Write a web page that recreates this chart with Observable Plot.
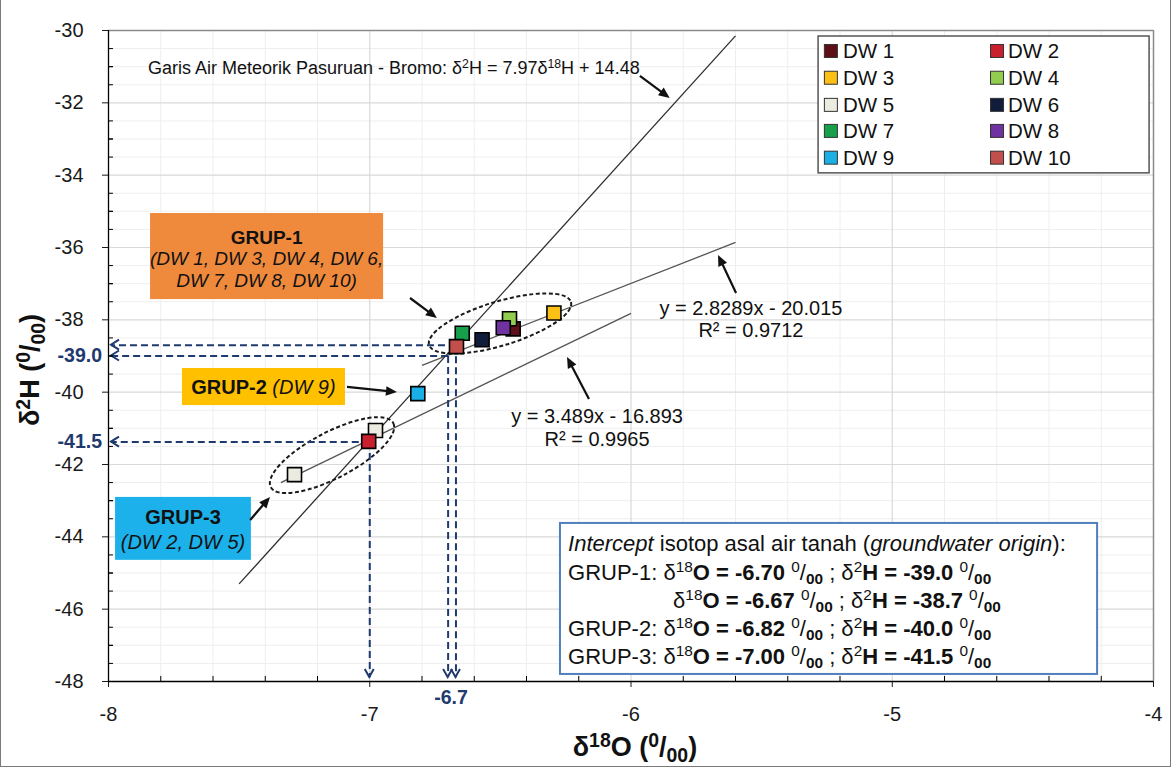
<!DOCTYPE html>
<html><head><meta charset="utf-8">
<script src="https://cdn.jsdelivr.net/npm/d3@7"></script>
<script src="https://cdn.jsdelivr.net/npm/@observablehq/plot@0.6"></script>
<style>
html,body{margin:0;padding:0;background:#fff;}
#chart{position:relative;width:1171px;height:769px;overflow:hidden;}
#chart svg{display:block;}
#border{position:absolute;left:0;top:0;width:1171px;height:767px;box-sizing:border-box;border:1.5px solid #7a7a7a;border-top:none;pointer-events:none;}
</style></head><body>
<div id="chart"><div id="border"></div></div>
<script>
// ---------------- data ----------------
const SITES = ["DW 1","DW 2","DW 3","DW 4","DW 5","DW 6","DW 7","DW 8","DW 9","DW 10"];
const SITE_COLORS = ["#5c0f16","#c8202c","#fbbf16","#92cd50","#ecebe0","#101c3a","#17a04c","#7032a0","#1ab0e6","#c24f4b"];

const SAMPLE_SITE = ["DW 1","DW 4","DW 8","DW 6","DW 7","DW 3","DW 5","DW 5","DW 2","DW 9","DW 10"];
const SAMPLE_O18  = [-6.451,-6.465,-6.489,-6.570,-6.646,-6.295,-7.288,-6.978,-7.004,-6.816,-6.668];
const SAMPLE_H2   = [-38.25,-37.97,-38.22,-38.55,-38.37,-37.81,-42.28,-41.06,-41.36,-40.04,-38.74];

// line segments as drawn: meteoric line, GRUP-1 trend, GRUP-3 trend
const LINE_NAMES = ["GMWL Pasuruan-Bromo","trend y = 2.8289x - 20.015","trend y = 3.489x - 16.893"];
const LINE_X1 = [-7.50,-6.80,-7.34];
const LINE_Y1 = [-45.30,-39.26,-42.50];
const LINE_X2 = [-5.60,-5.60,-6.00];
const LINE_Y2 = [-30.15,-35.86,-37.82];

// intercept guides (dashed arrows to the axes)
const GUIDE_O18 = [-6.67,-6.70,-7.00];
const GUIDE_H2  = [-38.70,-39.00,-41.38];

const X_TICKS = [-8,-7,-6,-5,-4];
const Y_TICKS = [-30,-32,-34,-36,-38,-40,-42,-44,-46,-48];

// text content
const MWL_TEXT = [["Garis Air Meteorik Pasuruan - Bromo: δ",""],["2","^"],["H = 7.97δ",""],["18","^"],["H + 14.48",""]];
const EQ1 = ["y = 2.8289x - 20.015","R² = 0.9712"];
const EQ2 = ["y = 3.489x - 16.893","R² = 0.9965"];
const INTERCEPT_LINES = [
  [["Intercept","i"],[" isotop asal air tanah (",""],["groundwater origin","i"],["):",""]],
  [["GRUP-1: δ",""],["18","^"],["O = -6.70 ","b"],["0","^"],["/",""],["00","_b"],[" ; δ",""],["2","^"],["H = -39.0 ","b"],["0","^"],["/",""],["00","_b"]],
  [["δ",""],["18","^"],["O = -6.67 ","b"],["0","^"],["/",""],["00","_b"],[" ; δ",""],["2","^"],["H = -38.7 ","b"],["0","^"],["/",""],["00","_b"]],
  [["GRUP-2: δ",""],["18","^"],["O = -6.82 ","b"],["0","^"],["/",""],["00","_b"],[" ; δ",""],["2","^"],["H = -40.0 ","b"],["0","^"],["/",""],["00","_b"]],
  [["GRUP-3: δ",""],["18","^"],["O = -7.00 ","b"],["0","^"],["/",""],["00","_b"],[" ; δ",""],["2","^"],["H = -41.5 ","b"],["0","^"],["/",""],["00","_b"]]
];

// ---------------- layout (annotation anchors in data units) ----------------
const FONT = "'Liberation Sans', Arial, Helvetica, sans-serif";
const NAVY = "#1f3a6e";
const BOX_X1 = [-7.839,-7.717,-7.973], BOX_X2 = [-6.947,-7.093,-7.453];
const BOX_Y1 = [-35.06,-39.345,-42.91], BOX_Y2 = [-37.44,-40.37,-44.65];
const BOX_FILL = ["#ef8a3d","#ffc000","#1cb1ea"];

const ELL_X1 = [-6.771,-7.377], ELL_Y1 = [-38.71,-42.64];
const ELL_X2 = [-6.228,-6.908], ELL_Y2 = [-37.52,-40.87];
const ELL_RY = [22,23];

const ARR_X1 = [-5.964,-5.596,-6.159,-6.844,-7.085,-7.456];
const ARR_Y1 = [-31.27,-37.27,-40.20,-37.41,-39.87,-43.55];
const ARR_X2 = [-5.850,-5.665,-6.243,-6.741,-6.894,-7.380];
const ARR_Y2 = [-31.88,-36.22,-39.04,-37.96,-40.01,-42.91];

const colorOf = s => SITE_COLORS[SITES.indexOf(s)];
const sampleIdx = d3.range(SAMPLE_SITE.length);
const lineIdx = d3.range(LINE_X1.length);
const guideIdx = d3.range(GUIDE_O18.length);
const boxIdx = d3.range(BOX_X1.length);

function getScales(args){ return args.find(a => a && typeof a.x === "function" && typeof a.y === "function"); }

function richText(g, x, y, segs, o = {}) {
  const size = o.size || 17;
  const t = g.append("text").attr("x", x).attr("y", y + 0.35*size)
    .attr("text-anchor", o.anchor || "start").attr("font-size", size)
    .attr("fill", o.fill || "#111").style("white-space","pre");
  if (o.rotate) t.attr("transform", `rotate(${o.rotate},${x},${y})`);
  if (o.weight) t.attr("font-weight", o.weight);
  const sc = o.scriptScale || 0.68;
  let shift = 0;
  for (const [txt, st] of segs) {
    const ts = t.append("tspan").text(txt);
    if (st.includes("b")) ts.attr("font-weight","bold");
    if (st.includes("i")) ts.attr("font-style","italic");
    let target = 0, fs = size;
    if (st.includes("^")) { target = -0.36*size; fs = size*sc; }
    if (st.includes("_")) { target = 0.22*size; fs = size*sc; }
    if (target !== shift) { ts.attr("dy", target - shift); shift = target; }
    ts.attr("font-size", fs);
  }
  return t;
}

function solidArrow(g, x1, y1, x2, y2, color) {
  const dx = x2-x1, dy = y2-y1, L = Math.hypot(dx,dy), ux = dx/L, uy = dy/L;
  const hl = 11, hw = 4.8, bx = x2-ux*hl, by = y2-uy*hl;
  g.append("line").attr("x1",x1).attr("y1",y1).attr("x2",bx+ux*2).attr("y2",by+uy*2)
    .attr("stroke",color).attr("stroke-width",2.2);
  g.append("path").attr("d",`M${x2},${y2}L${bx-uy*hw},${by+ux*hw}L${bx+uy*hw},${by-ux*hw}Z`).attr("fill",color);
}

const ellipseMark = (...args) => {
  const {x: X, y: Y} = getScales(args);
  const g = d3.create("svg:g");
  ELL_X1.forEach((_, i) => {
    const p1 = [X(ELL_X1[i]), Y(ELL_Y1[i])], p2 = [X(ELL_X2[i]), Y(ELL_Y2[i])];
    const cx = (p1[0]+p2[0])/2, cy = (p1[1]+p2[1])/2;
    const rx = Math.hypot(p2[0]-p1[0], p2[1]-p1[1])/2;
    const ang = Math.atan2(p2[1]-p1[1], p2[0]-p1[0])*180/Math.PI;
    g.append("ellipse").attr("cx",cx).attr("cy",cy).attr("rx",rx).attr("ry",ELL_RY[i])
      .attr("transform",`rotate(${ang},${cx},${cy})`).attr("fill","none")
      .attr("stroke","#1a1a1a").attr("stroke-width",2).attr("stroke-dasharray","4,2.5");
  });
  return g.node();
};

const annotationMark = (...args) => {
  const {x: X, y: Y} = getScales(args);
  const g = d3.create("svg:g").attr("font-family", FONT);

  // guide arrowheads (open chevrons)
  GUIDE_H2.forEach(h => {
    const tx = X(-8) + 3, ty = Y(h);
    g.append("path").attr("d",`M${tx+8},${ty-5}L${tx},${ty}L${tx+8},${ty+5}`)
      .attr("fill","none").attr("stroke",NAVY).attr("stroke-width",2);
  });
  GUIDE_O18.forEach(o => {
    const tx = X(o), ty = Y(-48) - 4;
    g.append("path").attr("d",`M${tx-4.5},${ty-8}L${tx},${ty}L${tx+4.5},${ty-8}`)
      .attr("fill","none").attr("stroke",NAVY).attr("stroke-width",2);
  });

  // black annotation arrows
  ARR_X1.forEach((_, i) => solidArrow(g, X(ARR_X1[i]), Y(ARR_Y1[i]), X(ARR_X2[i]), Y(ARR_Y2[i]), "#111"));

  // texts
  richText(g, X(-7.847), Y(-31.05), MWL_TEXT, {size: 18});
  richText(g, X(-5.539), Y(-37.686), [[EQ1[0],""]], {size: 20, anchor: "middle"});
  richText(g, X(-5.539), Y(-38.30), [[EQ1[1],""]], {size: 20, anchor: "middle"});
  richText(g, X(-6.128), Y(-40.672), [[EQ2[0],""]], {size: 20, anchor: "middle"});
  richText(g, X(-6.128), Y(-41.30), [[EQ2[1],""]], {size: 20, anchor: "middle"});

  richText(g, X(-7.393), Y(-35.72), [["GRUP-1","b"]], {size: 19, anchor: "middle"});
  richText(g, X(-7.393), Y(-36.30), [["(DW 1, DW 3, DW 4, DW 6,","i"]], {size: 19, anchor: "middle"});
  richText(g, X(-7.393), Y(-36.91), [["DW 7, DW 8, DW 10)","i"]], {size: 19, anchor: "middle"});
  richText(g, X(-7.405), Y(-39.87), [["GRUP-2 ","b"],["(DW 9)","i"]], {size: 20, anchor: "middle"});
  richText(g, X(-7.713), Y(-43.46), [["GRUP-3","b"]], {size: 20, anchor: "middle"});
  richText(g, X(-7.713), Y(-44.16), [["(DW 2, DW 5)","i"]], {size: 20, anchor: "middle"});

  const introY = [-44.18,-44.985,-45.759,-46.533,-47.307];
  const introX = [-6.239,-6.239,-5.837,-6.239,-6.239];
  INTERCEPT_LINES.forEach((segs, i) => richText(g, X(introX[i]), Y(introY[i]), segs, {size: 22, scriptScale: 0.7}));

  // legend
  const lx1 = X(-5.282), lx2 = X(-4.015), ly1 = Y(-30.166), ly2 = Y(-33.95);
  g.append("rect").attr("x",lx1).attr("y",ly1).attr("width",lx2-lx1).attr("height",ly2-ly1)
    .attr("fill","#fff").attr("stroke","#555").attr("stroke-width",1.5);
  const rowsY = [-30.58,-31.32,-32.07,-32.79,-33.53];
  const colSq = [-5.233,-4.597], colTx = [-5.187,-4.555];
  SITES.forEach((s, i) => {
    const c = i % 2, r = Math.floor(i/2);
    const cx = X(colSq[c]), cy = Y(rowsY[r]);
    g.append("rect").attr("x",cx-6.5).attr("y",cy-6.5).attr("width",13).attr("height",13)
      .attr("fill",SITE_COLORS[i]).attr("stroke","#333").attr("stroke-width",1);
    richText(g, X(colTx[c]), cy, [[s,""]], {size: 20.5});
  });

  // highlighted axis values
  richText(g, X(-8) - 6, Y(-39.0), [["-39.0","b"]], {size: 19.5, anchor: "end", fill: NAVY});
  richText(g, X(-8) - 6, Y(-41.38), [["-41.5","b"]], {size: 19.5, anchor: "end", fill: NAVY});
  richText(g, X(-6.687), Y(-48) + 16, [["-6.7","b"]], {size: 19.5, anchor: "middle", fill: NAVY});

  // axis titles
  richText(g, X(-5.983), Y(-48) + 66, [["δ",""],["18","^"],["O (","b"],["0","^b"],["/","b"],["00","_b"],[")","b"]], {size: 27, anchor: "middle", weight: "bold", scriptScale: 0.72});
  richText(g, 30, Y(-39.4), [["δ",""],["2","^"],["H (","b"],["0","^b"],["/","b"],["00","_b"],[")","b"]], {size: 27, anchor: "middle", rotate: -90, weight: "bold", scriptScale: 0.72});
  return g.node();
};

const minorX = d3.range(-7.8, -4.05, 0.2).map(v => +v.toFixed(1)).filter(v => !Number.isInteger(v));
const minorY = d3.range(-47.5, -30, 0.5).filter(v => v % 2 !== 0);

const chart = Plot.plot({
  width: 1171, height: 769,
  marginTop: 30, marginRight: 18, marginBottom: 88, marginLeft: 108,
  x: {domain: [-8, -4]},
  y: {domain: [-48, -30]},
  style: {fontFamily: FONT, fontSize: "20px", color: "#1a1a1a", background: "#fff"},
  marks: [
    Plot.ruleX(minorX, {stroke: "#eeeeee", strokeWidth: 1}),
    Plot.ruleY(minorY, {stroke: "#eeeeee", strokeWidth: 1}),
    Plot.ruleX([-7,-6,-5], {stroke: "#d9d9d9", strokeWidth: 1.2}),
    Plot.ruleY([-32,-34,-36,-38,-40,-42,-44,-46], {stroke: "#d9d9d9", strokeWidth: 1.2}),
    Plot.ruleY([-30], {stroke: "#8a8a8a", strokeWidth: 1.5}),
    Plot.ruleX([-4], {stroke: "#8a8a8a", strokeWidth: 1.5}),
    Plot.link(lineIdx, {x1: i => LINE_X1[i], y1: i => LINE_Y1[i], x2: i => LINE_X2[i], y2: i => LINE_Y2[i],
      stroke: i => i === 0 ? "#2e2e2e" : "#555555", strokeWidth: 1.3, title: i => LINE_NAMES[i]}),
    ellipseMark,
    Plot.link(guideIdx, {x1: i => GUIDE_O18[i], y1: i => GUIDE_H2[i], x2: -7.99, y2: i => GUIDE_H2[i],
      stroke: NAVY, strokeWidth: 2, strokeDasharray: "7,4"}),
    Plot.link(guideIdx, {x1: i => GUIDE_O18[i], y1: i => GUIDE_H2[i], x2: i => GUIDE_O18[i], y2: -47.88,
      stroke: NAVY, strokeWidth: 2, strokeDasharray: "7,4"}),
    Plot.rect(boxIdx, {x1: i => BOX_X1[i], x2: i => BOX_X2[i], y1: i => BOX_Y1[i], y2: i => BOX_Y2[i], fill: i => BOX_FILL[i]}),
    Plot.rect([0], {x1: -6.270, x2: -4.214, y1: -43.63, y2: -47.805, fill: "#fff", stroke: "#4f7fbd", strokeWidth: 2}),
    Plot.dot(sampleIdx, {x: i => SAMPLE_O18[i], y: i => SAMPLE_H2[i], fill: i => colorOf(SAMPLE_SITE[i]),
      stroke: "#000", strokeWidth: 1.6, symbol: "square", r: 7.9, title: i => SAMPLE_SITE[i]}),
    annotationMark,
    Plot.ruleX(minorX, {y1: -48, y2: -47.86, stroke: "#000"}),
    Plot.ruleY(minorY.concat([-47,-45,-43,-41,-39,-37,-35,-33,-31]), {x1: -8, x2: -7.981, stroke: "#000"}),
    Plot.axisX(X_TICKS, {tickSize: 6, tickPadding: 19, tickFormat: d => String(d), label: null, fontSize: 20}),
    Plot.axisY(Y_TICKS, {tickSize: 6, tickPadding: 19, tickFormat: d => String(d), label: null, fontSize: 20}),
    Plot.ruleX([-8], {stroke: "#000", strokeWidth: 1.3}),
    Plot.ruleY([-48], {stroke: "#000", strokeWidth: 1.3})
  ]
});
document.getElementById("chart").prepend(chart);
</script></body></html>
